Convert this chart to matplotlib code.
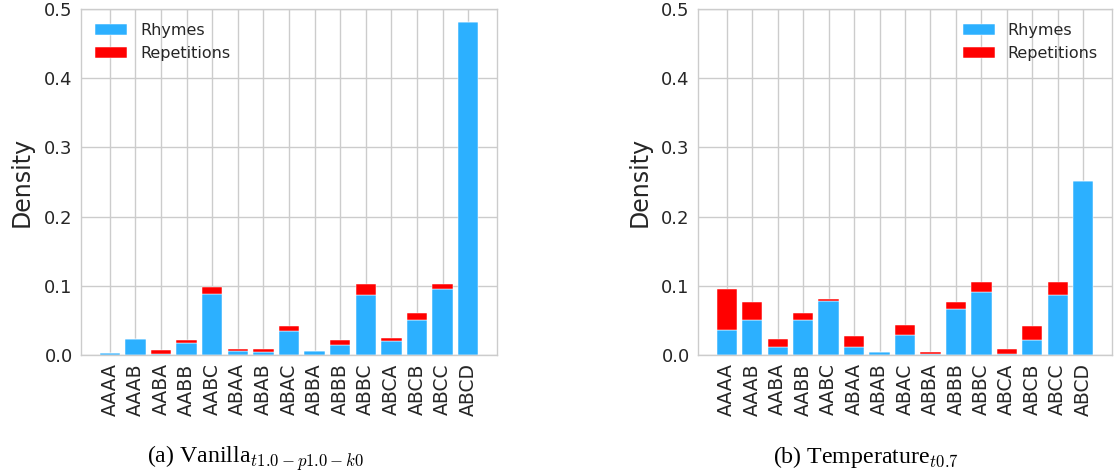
import matplotlib
matplotlib.use("Agg")
import matplotlib.pyplot as plt
import numpy as np

categories = ["AAAA", "AAAB", "AABA", "AABB", "AABC", "ABAA", "ABAB", "ABAC",
              "ABBA", "ABBB", "ABBC", "ABCA", "ABCB", "ABCC", "ABCD"]

vanilla_rhymes = [0.003, 0.023, 0.002, 0.017, 0.088, 0.006, 0.004, 0.035,
                  0.006, 0.014, 0.086, 0.020, 0.050, 0.095, 0.481]
vanilla_reps = [0.0, 0.0, 0.005, 0.004, 0.010, 0.002, 0.005, 0.007,
                0.0, 0.008, 0.017, 0.005, 0.011, 0.007, 0.0]

temp_rhymes = [0.036, 0.050, 0.012, 0.050, 0.078, 0.011, 0.004, 0.029,
               0.001, 0.067, 0.091, 0.001, 0.021, 0.086, 0.252]
temp_reps = [0.060, 0.027, 0.011, 0.010, 0.003, 0.017, 0.0, 0.014,
             0.003, 0.009, 0.015, 0.008, 0.021, 0.019, 0.0]

yticks = [0.0, 0.1, 0.2, 0.3, 0.4, 0.5]
captions = [r"(a) Vanilla$_{t1.0-p1.0-k0}$", r"(b) Temperature$_{t0.7}$"]

BLUE = "#2cb0ff"
RED = "#ff0000"
GRID = "#cccccc"
TXT = "#262626"

plt.rcParams["mathtext.fontset"] = "cm"

fig = plt.figure(figsize=(11.15, 4.75), dpi=100)
W, H = 1115, 475
top, bottom = 9, 355
axes_px = [(81, 497), (698, 1112)]
legend_locs = ["upper left", "upper right"]
data = [(vanilla_rhymes, vanilla_reps), (temp_rhymes, temp_reps)]
cap_x = [147, 773]
label_x = [-0.115, -0.111]

for i, ((l, r), (rh, rp)) in enumerate(zip(axes_px, data)):
    ax = fig.add_axes([l / W, 1 - bottom / H, (r - l) / W, (bottom - top) / H])
    x = np.arange(len(categories))
    ax.bar(x, rh, width=0.8, color=BLUE, edgecolor="white", linewidth=0.35,
           label="Rhymes", zorder=2)
    ax.bar(x, rp, width=0.8, bottom=rh, color=RED, edgecolor="white",
           linewidth=0.35, label="Repetitions", zorder=2)
    ax.set_xlim(-1.13, len(categories) - 1 + 1.13)
    ax.set_ylim(0, 0.5)
    ax.set_yticks(yticks)
    ax.set_yticklabels([f"{v:.1f}" for v in yticks])
    ax.set_xticks(x)
    ax.set_xticklabels(categories, rotation=90)
    ax.tick_params(axis="both", length=0, colors=TXT)
    ax.tick_params(axis="y", labelsize=13, pad=6)
    ax.tick_params(axis="x", labelsize=13.5, pad=6)
    ax.grid(True, color=GRID, linewidth=1.0, zorder=0)
    ax.set_axisbelow(True)
    for s in ax.spines.values():
        s.set_color(GRID)
        s.set_linewidth(1.0)
    ax.set_ylabel("Density", fontsize=17, color=TXT)
    ax.yaxis.set_label_coords(label_x[i], 0.5)
    leg = ax.legend(loc=legend_locs[i], frameon=False, fontsize=11.5)
    for t in leg.get_texts():
        t.set_color(TXT)
    fig.text(cap_x[i] / W, 1 - 463 / H, captions[i], fontsize=17.2,
             family="Liberation Serif", ha="left", va="baseline", color="black")

fig.savefig("out.png", dpi=100)
